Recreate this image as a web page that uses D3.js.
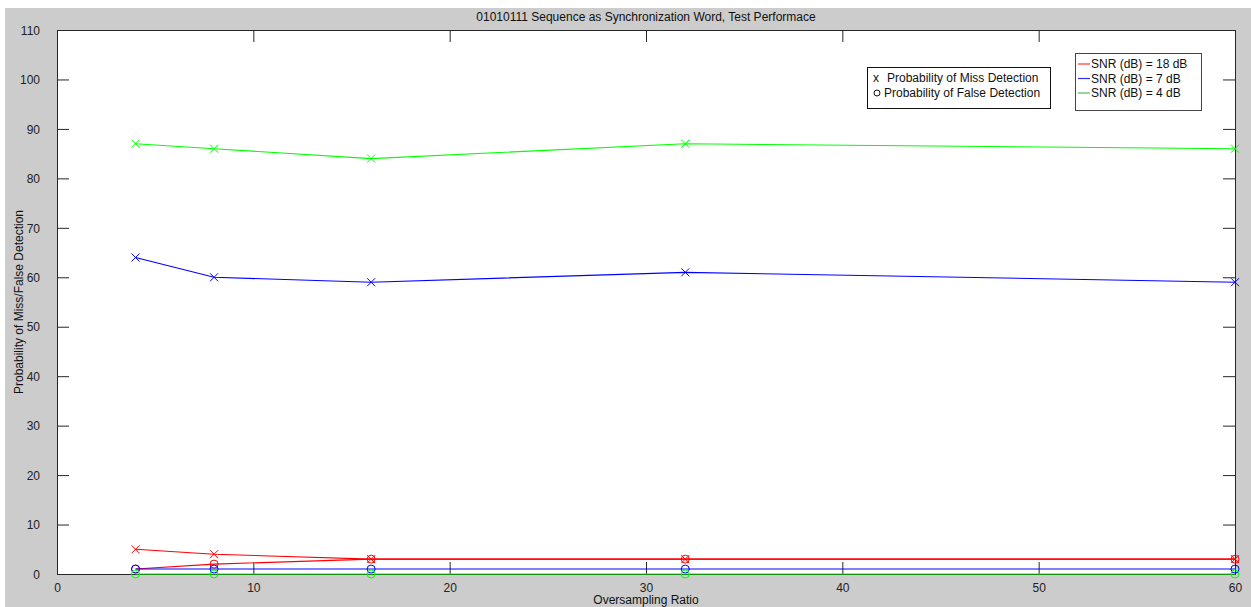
<!DOCTYPE html>
<html><head><meta charset="utf-8">
<script src="https://cdn.jsdelivr.net/npm/d3@7"></script>
<style>
html,body{margin:0;padding:0;background:#fff;}
svg{display:block;font-family:"Liberation Sans",Arial,sans-serif;}
</style></head><body>
<svg id="chart" width="1251" height="607"></svg>
<script>
const xValues = [4, 8, 16, 32, 60];
const xTicks = [0, 10, 20, 30, 40, 50, 60];
const yTicks = [0, 10, 20, 30, 40, 50, 60, 70, 80, 90, 100, 110];
const snrLabels = ["SNR (dB) = 18 dB", "SNR (dB) = 7 dB", "SNR (dB) = 4 dB"];
const missSnr18 = [5, 4, 3, 3, 3];
const falseSnr18 = [1, 2, 3, 3, 3];
const missSnr7 = [64, 60, 59, 61, 59];
const falseSnr7 = [1, 1, 1, 1, 1];
const missSnr4 = [87, 86, 84, 87, 86];
const falseSnr4 = [0, 0, 0, 0, 0];
const markerLabels = ["Probability of Miss Detection", "Probability of False Detection"];
const titleText = "01010111 Sequence as Synchronization Word, Test Performace";
const xLabel = "Oversampling Ratio";
const yLabel = "Probability of Miss/False Detection";

const colors = ["#ff0000", "#0000ff", "#00ff00"];
const legendColors = ["#ff3333", "#3333ee", "#55bb55"];

const svg = d3.select("#chart");
// figure background
svg.append("rect").attr("x", 5).attr("y", 8).attr("width", 1246).attr("height", 599).attr("fill", "#cccccc");

const L = 57, R = 1235, T = 30, B = 574;
const x = d3.scaleLinear().domain([0, 60]).range([L, R]);
const y = d3.scaleLinear().domain([0, 110]).range([B, T]);

svg.append("rect").attr("x", L).attr("y", T).attr("width", R - L).attr("height", B - T).attr("fill", "#fff");

const tickLen = 12;
const axisColor = "#262626";
const fontSize = 12;

// axes
const xAxisB = d3.axisBottom(x).tickValues(xTicks).tickSize(-tickLen).tickPadding(tickLen + 4).tickFormat(d3.format("d"));
const xAxisT = d3.axisTop(x).tickValues(xTicks).tickSize(-tickLen).tickFormat("");
const yAxisL = d3.axisLeft(y).tickValues(yTicks).tickSize(-tickLen).tickPadding(tickLen + 5).tickFormat(d3.format("d"));
const yAxisR = d3.axisRight(y).tickValues(yTicks).tickSize(-tickLen).tickFormat("");

function styleAxis(g) {
  g.select(".domain").attr("stroke", axisColor);
  g.selectAll(".tick line").attr("stroke", axisColor);
  g.selectAll(".tick text").attr("fill", "#222").style("font-size", fontSize + "px").style("font-family", "'Liberation Sans', Arial, sans-serif");
}
const gxb = svg.append("g").attr("transform", `translate(0,${B})`).call(xAxisB).call(styleAxis);
gxb.selectAll(".tick text").attr("dy", "0.2em");
svg.append("g").attr("transform", `translate(0,${T})`).call(xAxisT).call(styleAxis);
const gyl = svg.append("g").attr("transform", `translate(${L},0)`).call(yAxisL).call(styleAxis);
gyl.selectAll(".tick text").attr("dy", "0.35em");
svg.append("g").attr("transform", `translate(${R},0)`).call(yAxisR).call(styleAxis);
// hide tick lines at ends overlapping border (still fine)

// series
const series = [
  { values: missSnr18, marker: "x", color: colors[0] },
  { values: falseSnr18, marker: "o", color: colors[0] },
  { values: missSnr7, marker: "x", color: colors[1] },
  { values: falseSnr7, marker: "o", color: colors[1] },
  { values: missSnr4, marker: "x", color: colors[2] },
  { values: falseSnr4, marker: "o", color: colors[2] }
];
const line = d3.line().x((d, i) => x(xValues[i])).y(d => y(d));
const plot = svg.append("g");
series.forEach(s => {
  plot.append("path").datum(s.values).attr("d", line).attr("fill", "none").attr("stroke", s.color).attr("stroke-width", 1.1);
  const g = plot.append("g");
  s.values.forEach((v, i) => {
    const cx = x(xValues[i]), cy = y(v);
    if (s.marker === "x") {
      const r = 4;
      g.append("path").attr("d", `M${cx - r},${cy - r}L${cx + r},${cy + r}M${cx - r},${cy + r}L${cx + r},${cy - r}`)
        .attr("stroke", s.color).attr("stroke-width", 1).attr("fill", "none");
    } else {
      g.append("circle").attr("cx", cx).attr("cy", cy).attr("r", 4)
        .attr("stroke", s.color).attr("stroke-width", 1).attr("fill", "none");
    }
  });
});

// title & labels
svg.append("text").attr("x", (L + R) / 2).attr("y", 21).attr("text-anchor", "middle")
  .style("font-size", fontSize + "px").attr("fill", "#111").text(titleText);
svg.append("text").attr("x", (L + R) / 2).attr("y", 604).attr("text-anchor", "middle")
  .style("font-size", fontSize + "px").attr("fill", "#111").text(xLabel);
svg.append("text").attr("transform", `translate(23,${(T + B) / 2}) rotate(-90)`).attr("text-anchor", "middle")
  .style("font-size", fontSize + "px").attr("fill", "#111").text(yLabel);

// marker legend
const lg1 = svg.append("g");
lg1.append("rect").attr("x", 867.5).attr("y", 67.5).attr("width", 183).attr("height", 41)
  .attr("fill", "#fff").attr("stroke", "#111").attr("stroke-width", 1);
lg1.append("text").attr("x", 873).attr("y", 82).style("font-size", fontSize + "px").attr("fill", "#111").text("x");
lg1.append("text").attr("x", 887).attr("y", 82).style("font-size", fontSize + "px").attr("fill", "#111").text(markerLabels[0]);
lg1.append("circle").attr("cx", 877).attr("cy", 93).attr("r", 3).attr("fill", "none").attr("stroke", "#111").attr("stroke-width", 1);
lg1.append("text").attr("x", 884).attr("y", 97).style("font-size", fontSize + "px").attr("fill", "#111").text(markerLabels[1]);

// SNR legend
const lg2 = svg.append("g");
lg2.append("rect").attr("x", 1075.5).attr("y", 53.5).attr("width", 126).attr("height", 57)
  .attr("fill", "#fff").attr("stroke", "#444").attr("stroke-width", 1);
snrLabels.forEach((lab, i) => {
  const yy = 64 + i * 14.5;
  lg2.append("line").attr("x1", 1078).attr("x2", 1090).attr("y1", yy).attr("y2", yy)
    .attr("stroke", legendColors[i]).attr("stroke-width", 1.2);
  lg2.append("text").attr("x", 1091).attr("y", yy + 4).style("font-size", fontSize + "px").attr("fill", "#111").text(lab);
});
</script>
</body></html>
